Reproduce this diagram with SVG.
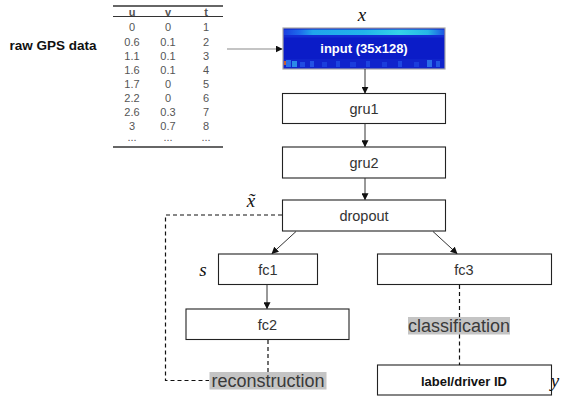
<svg xmlns="http://www.w3.org/2000/svg" width="561" height="396" viewBox="0 0 561 396">
  <defs>
    <marker id="ah" viewBox="0 0 10 10" refX="9" refY="5" markerWidth="7" markerHeight="7" markerUnits="userSpaceOnUse" orient="auto">
      <path d="M0,0 L10,5 L0,10 z" fill="#111"/>
    </marker>
    <linearGradient id="band" x1="0" y1="0" x2="1" y2="0">
      <stop offset="0" stop-color="#1a3fe0"/>
      <stop offset="0.1" stop-color="#1d6cec"/>
      <stop offset="0.18" stop-color="#20a6ec"/>
      <stop offset="0.5" stop-color="#22b4ea"/>
      <stop offset="0.72" stop-color="#34d4e8"/>
      <stop offset="0.9" stop-color="#26b6e6"/>
      <stop offset="1" stop-color="#1d56e4"/>
    </linearGradient>
  </defs>
  <style>
    .box { fill: #fff; stroke: #222; stroke-width: 1.1; }
    .lbl { font-family: "Liberation Sans", Arial, sans-serif; font-size: 14.5px; fill: #333; text-anchor: middle; dominant-baseline: central; }
    .bold { font-family: "Liberation Sans", Arial, sans-serif; font-weight: bold; text-anchor: middle; dominant-baseline: central; }
    .tbl { font-family: "Liberation Sans", Arial, sans-serif; font-size: 11px; fill: #555; text-anchor: middle; dominant-baseline: central; }
    .math { font-family: "Liberation Serif", "DejaVu Serif", serif; font-style: italic; font-size: 19px; fill: #111; text-anchor: middle; dominant-baseline: central; }
    .hl { fill: #c4c4c4; }
    .hltext { font-family: "Liberation Sans", Arial, sans-serif; font-size: 18px; fill: #3a3a3a; text-anchor: middle; dominant-baseline: central; }
    .solid { fill: none; stroke: #333; stroke-width: 1; }
    .dash { fill: none; stroke: #111; stroke-width: 1.2; stroke-dasharray: 4 3; }
  </style>

  <!-- raw trajectory table -->
  <g id="raw-data">
    <text class="bold" x="53" y="45" font-size="13.5" fill="#111">raw GPS data</text>
    <line x1="113" y1="6" x2="223" y2="6" stroke="#333" stroke-width="1.4"/>
    <line x1="113" y1="16.5" x2="223" y2="16.5" stroke="#333" stroke-width="1"/>
    <line x1="113" y1="147" x2="223" y2="147" stroke="#333" stroke-width="1.4"/>
    <text class="tbl" x="132" y="11.5" font-weight="bold" fill="#222">u</text>
    <text class="tbl" x="168" y="11.5" font-weight="bold" fill="#222">v</text>
    <text class="tbl" x="206" y="11.5" font-weight="bold" fill="#222">t</text>
    <text class="tbl" x="132" y="27">0</text><text class="tbl" x="168" y="27">0</text><text class="tbl" x="206" y="27">1</text>
    <text class="tbl" x="132" y="41.5">0.6</text><text class="tbl" x="168" y="41.5">0.1</text><text class="tbl" x="206" y="41.5">2</text>
    <text class="tbl" x="132" y="55.5">1.1</text><text class="tbl" x="168" y="55.5">0.1</text><text class="tbl" x="206" y="55.5">3</text>
    <text class="tbl" x="132" y="69.5">1.6</text><text class="tbl" x="168" y="69.5">0.1</text><text class="tbl" x="206" y="69.5">4</text>
    <text class="tbl" x="132" y="84">1.7</text><text class="tbl" x="168" y="84">0</text><text class="tbl" x="206" y="84">5</text>
    <text class="tbl" x="132" y="98">2.2</text><text class="tbl" x="168" y="98">0</text><text class="tbl" x="206" y="98">6</text>
    <text class="tbl" x="132" y="112">2.6</text><text class="tbl" x="168" y="112">0.3</text><text class="tbl" x="206" y="112">7</text>
    <text class="tbl" x="132" y="126">3</text><text class="tbl" x="168" y="126">0.7</text><text class="tbl" x="206" y="126">8</text>
    <text class="tbl" x="132" y="137" font-size="9">...</text><text class="tbl" x="168" y="137" font-size="9">...</text><text class="tbl" x="206" y="137" font-size="9">...</text>
  </g>

  <!-- input heat-map -->
  <g id="input">
    <rect x="283" y="28" width="162" height="41" fill="#0b1cc8" stroke="#a8a8a8" stroke-width="1.2"/>
    <rect x="284" y="29.5" width="160" height="5.5" fill="url(#band)"/>
    <rect x="284" y="35" width="160" height="2.5" fill="#1430d6" opacity="0.8"/>
    <rect x="284" y="59" width="160" height="9" fill="#1024cc"/>
    <rect x="284" y="61" width="2" height="4" fill="#c85a30"/>
    <rect x="286" y="60" width="5" height="7" fill="#2a6ee8"/>
    <rect x="292" y="61" width="5" height="6" fill="#2c8ae8"/>
    <rect x="300" y="62" width="5" height="5" fill="#1f4ae2"/>
    <rect x="310" y="61" width="4" height="6" fill="#2352e4"/>
    <rect x="322" y="62" width="5" height="5" fill="#1a3edc"/>
    <rect x="336" y="61" width="4" height="6" fill="#1c44e0"/>
    <rect x="350" y="62" width="6" height="5" fill="#1a3cdc"/>
    <rect x="366" y="61" width="4" height="6" fill="#1c44e0"/>
    <rect x="382" y="62" width="5" height="5" fill="#1a3cdc"/>
    <rect x="398" y="61" width="4" height="6" fill="#1e48e2"/>
    <rect x="414" y="62" width="5" height="5" fill="#1a3cdc"/>
    <rect x="427" y="60" width="5" height="7" fill="#2a6ce8"/>
    <rect x="436" y="61" width="4" height="6" fill="#2256e4"/>
    <text class="bold" x="364" y="48.5" font-size="13" fill="#fff">input (35x128)</text>
  </g>

  <g id="gru1">
    <rect class="box" x="282.5" y="93.5" width="163" height="30"/>
    <text class="lbl" x="364" y="109">gru1</text>
  </g>
  <g id="gru2">
    <rect class="box" x="282.5" y="147" width="163" height="31"/>
    <text class="lbl" x="364" y="163">gru2</text>
  </g>
  <g id="dropout">
    <rect class="box" x="282.5" y="200" width="163" height="31"/>
    <text class="lbl" x="364" y="216">dropout</text>
  </g>
  <g id="fc1">
    <rect class="box" x="218.5" y="254" width="99" height="30.5"/>
    <text class="lbl" x="268" y="270">fc1</text>
  </g>
  <g id="fc2">
    <rect class="box" x="186" y="309" width="163" height="30.5"/>
    <text class="lbl" x="267.5" y="325">fc2</text>
  </g>
  <g id="fc3">
    <rect class="box" x="377.5" y="254" width="174" height="30.5"/>
    <text class="lbl" x="464" y="270">fc3</text>
  </g>
  <g id="driver-id">
    <rect class="box" x="377.5" y="365" width="174" height="30"/>
    <text class="bold" x="464" y="381" font-size="13" fill="#111">label/driver ID</text>
  </g>

  <!-- math symbols -->
  <g id="symbols">
    <text class="math" x="362" y="14">x</text>
    <text class="math" x="251" y="200">x̃</text>
    <text class="math" x="203" y="269">s</text>
    <text class="math" x="555" y="380">y</text>
  </g>

  <!-- task labels -->
  <g id="classification">
    <rect class="hl" x="408" y="317" width="102" height="17.5"/>
    <text class="hltext" x="459" y="326">classification</text>
  </g>
  <g id="reconstruction">
    <rect class="hl" x="209.5" y="372" width="117" height="17.5"/>
    <text class="hltext" x="268" y="381">reconstruction</text>
  </g>

  <!-- connectors -->
  <g id="connectors">
    <line x1="227" y1="49" x2="282" y2="49" stroke="#8a8a8a" stroke-width="1.2" marker-end="url(#ah)"/>
    <line class="solid" x1="365" y1="69" x2="365" y2="93" marker-end="url(#ah)"/>
    <line class="solid" x1="365" y1="123.5" x2="365" y2="146.5" marker-end="url(#ah)"/>
    <line class="solid" x1="365" y1="178" x2="365" y2="199.5" marker-end="url(#ah)"/>
    <line class="solid" x1="296" y1="231.5" x2="272" y2="253.5" marker-end="url(#ah)"/>
    <line class="solid" x1="433" y1="231.5" x2="457" y2="253.5" marker-end="url(#ah)"/>
    <line class="solid" x1="267" y1="284.5" x2="267" y2="308.5" marker-end="url(#ah)"/>
    <line class="dash" x1="268" y1="340" x2="268" y2="372"/>
    <line class="dash" x1="459.5" y1="285" x2="459.5" y2="317"/>
    <line class="dash" x1="459.5" y1="334.5" x2="459.5" y2="365"/>
    <polyline class="dash" points="282,215 165.5,215 165.5,380.5 209,380.5"/>
  </g>
</svg>
